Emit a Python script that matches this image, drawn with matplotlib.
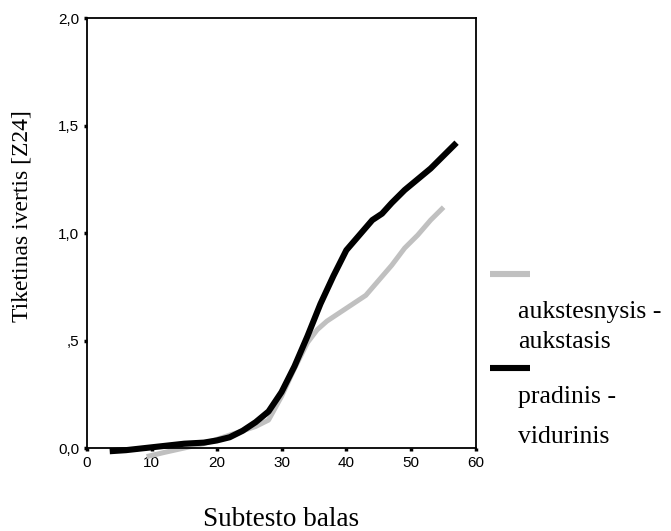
import matplotlib
matplotlib.use('Agg')
import matplotlib.pyplot as plt
from matplotlib.lines import Line2D

# pradinis - vidurinis (black)
x_prad = [3.5, 6, 9, 12, 15, 18, 20, 22, 24, 26, 28, 30, 32, 34, 36, 38, 40, 42, 44, 45.5, 47, 49, 51, 53, 55, 57]
y_prad = [-0.015, -0.01, 0.0, 0.01, 0.02, 0.025, 0.035, 0.05, 0.08, 0.12, 0.17, 0.26, 0.38, 0.52, 0.67, 0.80,
          0.92, 0.99, 1.06, 1.09, 1.14, 1.20, 1.25, 1.30, 1.36, 1.42]

# aukstesnysis - aukstasis (grey)
x_auk = [9.2, 12, 15, 18, 20, 22, 24, 26, 28, 30, 32, 34, 35.5, 37, 38.5, 40, 41.5, 43, 45, 47, 49, 51, 53, 55]
y_auk = [-0.04, -0.02, 0.0, 0.02, 0.04, 0.06, 0.08, 0.10, 0.13, 0.24, 0.37, 0.49, 0.55, 0.59, 0.62, 0.65,
         0.68, 0.71, 0.78, 0.85, 0.93, 0.99, 1.06, 1.12]

x_ticks = [0, 10, 20, 30, 40, 50, 60]
y_ticks = [0.0, 0.5, 1.0, 1.5, 2.0]
y_ticklabels = ['0,0', ',5', '1,0', '1,5', '2,0']

grey = '#c0c0c0'

fig = plt.figure(figsize=(6.71, 5.31), dpi=100)
ax = fig.add_axes([0.1297, 0.1563, 0.5797, 0.8098])

ax.plot(x_auk, y_auk, color=grey, linewidth=3.6, solid_capstyle='butt')
ax.plot(x_prad, y_prad, color='black', linewidth=4.4, solid_capstyle='butt')

ax.set_xlim(0, 60)
ax.set_ylim(0, 2.0)
ax.set_xticks(x_ticks)
ax.set_xticklabels([str(t) for t in x_ticks], fontsize=11, family='Liberation Sans')
ax.set_yticks(y_ticks)
ax.set_yticklabels(y_ticklabels, fontsize=11, family='Liberation Sans')
ax.tick_params(direction='out', length=2.5, width=2.5, pad=3)
for s in ax.spines.values():
    s.set_linewidth(1.3)
for l in ax.lines:
    l.set_clip_on(False)

ax.set_xlabel('Subtesto balas', fontsize=19.5, family='Liberation Serif')
ax.xaxis.label.set_va('center')
ax.xaxis.set_label_coords(0.5, -0.167)
ax.set_ylabel('Tiketinas ivertis [Z24]', fontsize=17, family='Liberation Serif')
ax.yaxis.label.set_va('center')
ax.yaxis.set_label_coords(-0.167, 0.54)

# legend, drawn beside the plot
fig.add_artist(Line2D([490 / 671, 530 / 671], [1 - 274 / 531] * 2, color=grey, linewidth=4.4,
                      solid_capstyle='butt', transform=fig.transFigure))
fig.add_artist(Line2D([490 / 671, 530 / 671], [1 - 368 / 531] * 2, color='black', linewidth=4.4,
                      solid_capstyle='butt', transform=fig.transFigure))
legend_lines = [('aukstesnysis -', 312), ('aukstasis', 342), ('pradinis -', 397), ('vidurinis', 437)]
for txt, ypx in legend_lines:
    fig.text(518 / 671, 1 - ypx / 531, txt, fontsize=18.5, family='Liberation Serif', va='center', ha='left')

fig.savefig('out.png', dpi=100)
